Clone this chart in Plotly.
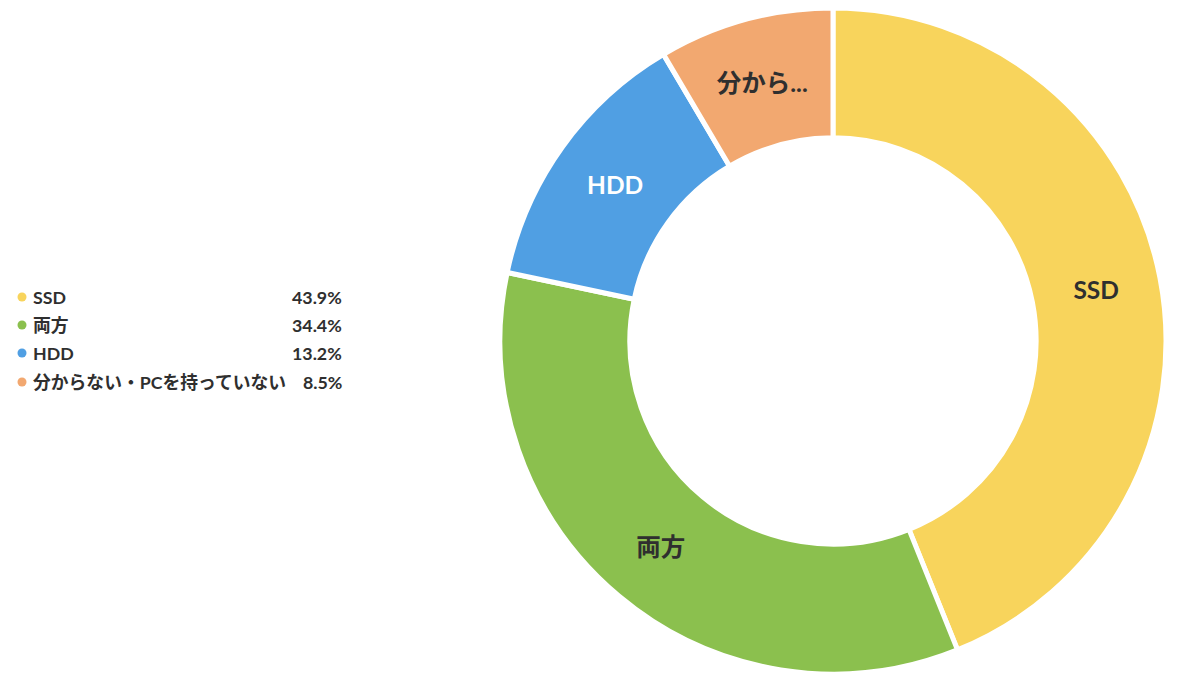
import plotly.graph_objects as go

# data
labels = ["SSD", "両方", "HDD", "分からない・PCを持っていない"]
short_labels = ["SSD", "両方", "HDD", "分から..."]
values = [43.9, 34.4, 13.2, 8.5]
colors = ["#F8D45C", "#8BC04E", "#509FE3", "#F2A870"]
text_colors = ["#2F2F2F", "#2F2F2F", "#FFFFFF", "#2F2F2F"]

W, H = 1178, 688
OFF = 8  # page body margin
FONT = "Lato, 'Noto Sans CJK JP', sans-serif"

cx, cy, r = 833 - OFF, 341 - OFF, 333

fig = go.Figure()
fig.add_trace(go.Pie(
    labels=labels,
    values=values,
    text=["<b>%s</b>" % s for s in short_labels],
    textinfo="text",
    textposition="inside",
    insidetextorientation="horizontal",
    insidetextfont=dict(family=FONT, size=24.5, color=text_colors),
    hole=0.61,
    sort=False,
    direction="clockwise",
    rotation=0,
    marker=dict(colors=colors, line=dict(color="white", width=5)),
    domain=dict(x=[(cx - r) / W, (cx + r) / W],
                y=[max(0, 1 - (cy + r) / H), min(1, 1 - (cy - r) / H)]),
    showlegend=False,
))

# custom legend: dot, label, right aligned percentage
row_y = [297, 325, 353, 382]
for lab, val, col, py in zip(labels, values, colors, row_y):
    yp = 1 - (py - OFF) / H
    fig.add_shape(type="circle", xref="paper", yref="paper",
                  xsizemode="pixel", ysizemode="pixel",
                  xanchor=(22 - OFF) / W, yanchor=yp,
                  x0=-4.5, x1=4.5, y0=-4.5, y1=4.5,
                  fillcolor=col, line=dict(width=0))
    fig.add_annotation(x=(31 - OFF) / W, y=yp, xref="paper", yref="paper",
                       text="<b>%s</b>" % lab, showarrow=False,
                       xanchor="left", yanchor="middle",
                       font=dict(family=FONT, size=17.8, color="#2F2F2F"))
    fig.add_annotation(x=(344 - OFF) / W, y=yp, xref="paper", yref="paper",
                       text="<b>%.1f%%</b>" % val, showarrow=False,
                       xanchor="right", yanchor="middle",
                       font=dict(family=FONT, size=17.8, color="#2F2F2F"))

fig.update_layout(
    width=W, height=H,
    margin=dict(l=0, r=0, t=0, b=0),
    paper_bgcolor="white",
    plot_bgcolor="white",
    font=dict(family=FONT),
)

fig.write_html("out.html")
